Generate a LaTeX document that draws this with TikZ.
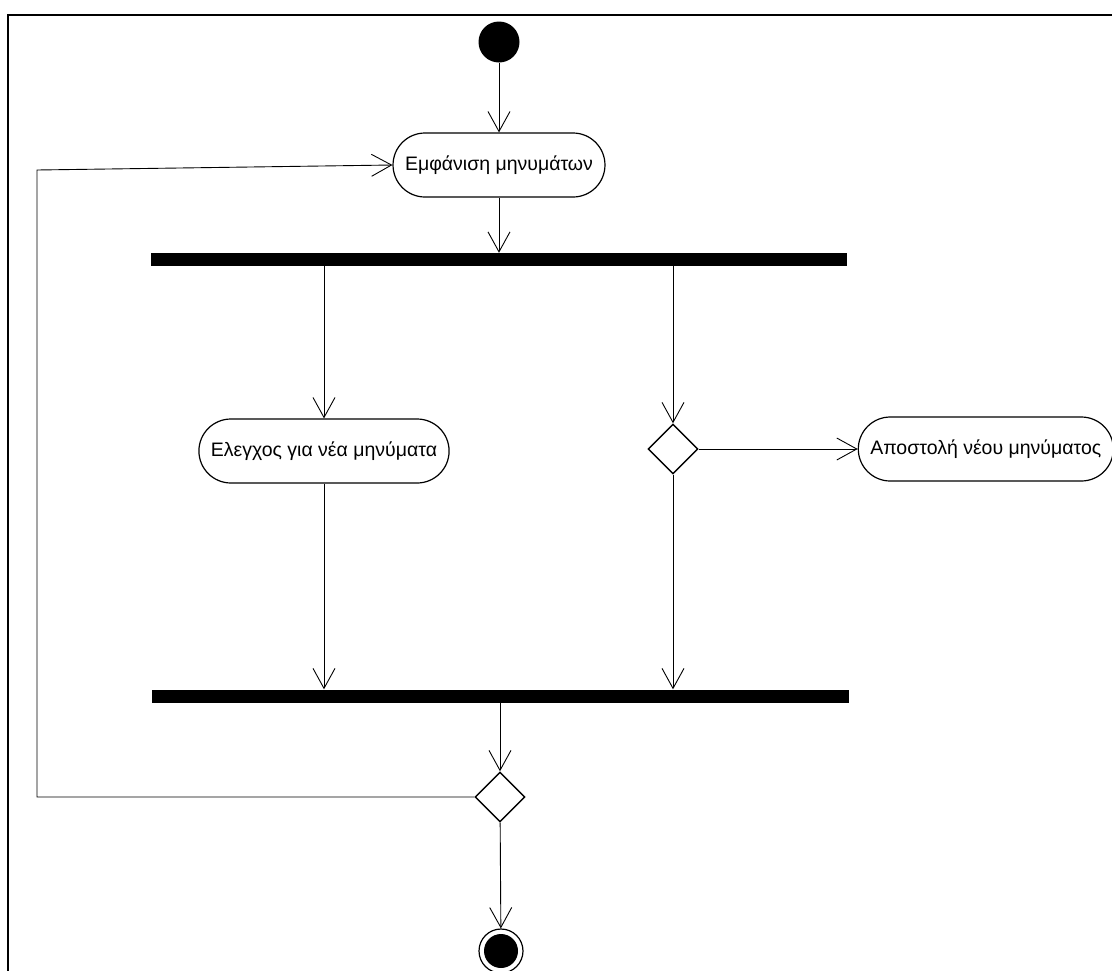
\documentclass[tikz,border=0pt]{standalone}
\usepackage{fontspec}
\setmainfont{Liberation Sans}
\usetikzlibrary{arrows.meta}
\usetikzlibrary{shapes.geometric}
\usetikzlibrary{positioning}

\begin{document}
\begin{tikzpicture}[x=1pt,y=-1pt,
  action/.style={draw,line width=1.2pt,rounded corners=32pt,minimum height=64pt,inner xsep=12pt,font=\fontsize{19.5}{23}\selectfont},
  bar/.style={fill=black,minimum height=13pt,inner sep=0pt},
  choice/.style={diamond,draw,fill=white,line width=1.4pt,minimum width=50pt,minimum height=50pt,inner sep=0pt},
  flow/.style={line width=0.9pt,-{Straight Barb[length=20pt,width=22pt]}}]
\useasboundingbox (0,0) rectangle (1112,970);
\clip (0,0) rectangle (1112,970);
\draw [line width=2pt] (8,980) -- (8,15) -- (1120,15);
\node [circle,fill=black,minimum size=41pt,inner sep=0pt] (start) at (499,42) {};
\node [action] (show) at (499,165) {Εμφάνιση μηνυμάτων};
\node [bar,minimum width=696pt] (fork) at (499,259.5) {};
\node [action] (check) at (324,451) {Ελεγχος για νέα μηνύματα};
\node [choice] (ask) at (673,449) {};
\node [action,right=159pt of ask] (send) {Αποστολή νέου μηνύματος};
\node [bar,minimum width=697pt] (join) at (500.5,696) {};
\node [choice] (loop) at (500,797) {};
\node [circle,draw,line width=1.2pt,minimum size=44pt,inner sep=0pt] (stop) at (501,951) {};
\fill (stop.center) circle (17pt);
\coordinate (low) at (37,797);
\coordinate (high) at (37,170);
\draw [flow] (start) -- (show);
\draw [flow] (show) -- (show |- fork.north);
\draw [flow] (fork.south -| check) -- (check);
\draw [flow] (fork.south -| ask) -- (ask);
\draw [flow] (ask) -- (send);
\draw [flow] (check) -- (check |- join.north);
\draw [flow] (ask) -- (ask |- join.north);
\draw [flow] (join.south -| loop) -- (loop);
\draw [flow] (loop) -- (stop);
\draw [flow] (loop.west) -- (low) -- (high) -- (show.west);
\end{tikzpicture}
\end{document}
